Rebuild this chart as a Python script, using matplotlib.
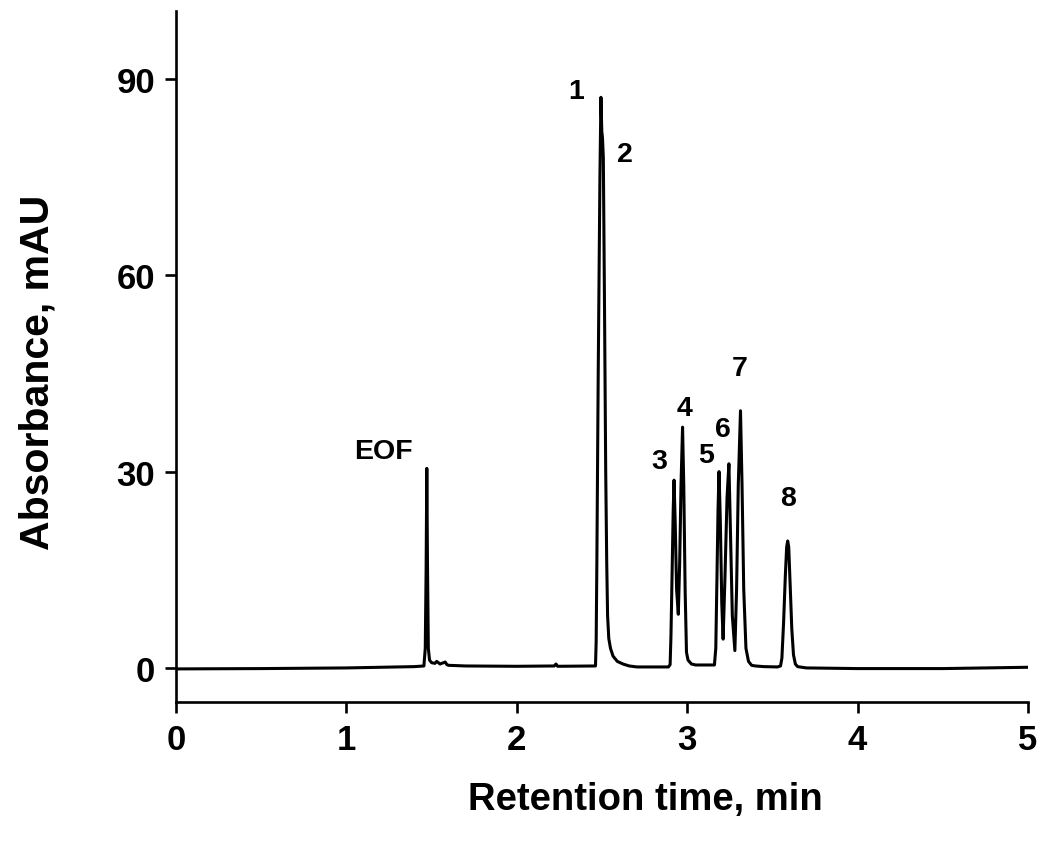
import matplotlib
matplotlib.use("Agg")
import matplotlib.pyplot as plt

time_min = [0.00, 0.50, 1.00, 1.40, 1.455, 1.463, 1.468, 1.472, 1.476, 1.481, 1.488,
            1.50, 1.52, 1.53, 1.55, 1.58, 1.59, 1.60, 1.70, 2.00, 2.22, 2.23, 2.24,
            2.462, 2.466, 2.470, 2.478, 2.488, 2.494, 2.499, 2.503, 2.508,
            2.515, 2.522, 2.528, 2.533, 2.540, 2.550, 2.565, 2.59, 2.623, 2.66, 2.705, 2.89,
            2.900, 2.905, 2.912, 2.918, 2.923, 2.930, 2.938, 2.948, 2.956, 2.964, 2.973,
            2.980, 2.988, 2.996, 3.005, 3.025, 3.05, 3.160,
            3.168, 3.175, 3.181, 3.187, 3.195, 3.203, 3.211, 3.222, 3.234, 3.245,
            3.253, 3.265, 3.280, 3.290, 3.300, 3.313, 3.322, 3.332,
            3.345, 3.360, 3.378, 3.40, 3.45, 3.53, 3.548,
            3.556, 3.566, 3.576, 3.584, 3.590, 3.596, 3.604, 3.614, 3.624, 3.635, 3.648,
            3.70, 4.00, 4.50, 5.00]
absorbance = [-0.15, -0.10, 0.00, 0.20, 0.30, 3.0, 15.0, 30.5, 16.0, 3.0, 1.2,
              0.8, 0.7, 1.0, 0.6, 0.9, 0.5, 0.4, 0.3, 0.25, 0.3, 0.6, 0.25,
              0.3, 4.0, 16.0, 45.0, 75.0, 87.2, 82.0, 81.0, 78.0,
              55.0, 30.0, 16.0, 8.0, 4.5, 3.0, 1.8, 1.0, 0.6, 0.3, 0.15, 0.15,
              0.5, 5.0, 15.0, 24.0, 28.7, 22.0, 12.0, 8.2, 16.0, 28.0, 36.8,
              28.0, 12.0, 2.4, 1.2, 0.6, 0.45, 0.45,
              3.0, 14.0, 24.0, 30.0, 22.0, 10.0, 4.4, 14.0, 26.0, 31.2,
              22.0, 8.0, 2.65, 12.0, 28.0, 39.3, 28.0, 12.0,
              3.0, 1.0, 0.4, 0.3, 0.2, 0.15, 0.3,
              1.5, 7.0, 14.0, 18.5, 19.4, 18.5, 13.0, 6.0, 2.0, 0.6, 0.2,
              0.0, -0.10, -0.10, 0.10]

# Peak labels
peak_labels = ["EOF", "1", "2", "3", "4", "5", "6", "7", "8"]
label_x = [1.215, 2.347, 2.635, 2.835, 2.982, 3.110, 3.207, 3.310, 3.590]
label_y = [33.2, 88.1, 78.5, 31.6, 39.7, 32.5, 36.5, 45.9, 25.9]

x_ticks = [0, 1, 2, 3, 4, 5]
y_ticks = [0, 30, 60, 90]
x_label = "Retention time, min"
y_label = "Absorbance, mAU"

fig = plt.figure(figsize=(10.5, 8.53), dpi=100)
ax = fig.add_axes([0.1676, 0.1759, 0.979 - 0.1676, 0.986 - 0.1759])

ax.plot(time_min, absorbance, color="black", lw=2.2, solid_joinstyle="round")

for t, lx, ly in zip(peak_labels, label_x, label_y):
    ax.text(lx, ly, t, ha="center", va="center", fontsize=20.5,
            fontweight="bold", family="Liberation Sans")

ax.set_xlim(0, 5)
ax.set_ylim(-5.2, 100.4)
ax.set_xticks(x_ticks)
ax.set_yticks(y_ticks)
ax.spines["top"].set_visible(False)
ax.spines["right"].set_visible(False)
ax.spines["left"].set_linewidth(1.9)
ax.spines["bottom"].set_linewidth(1.9)
ax.tick_params(direction="out", length=8, width=1.9, pad=7)

for lab in ax.get_xticklabels():
    lab.set_fontfamily(["Liberation Sans Narrow", "Liberation Sans"])
    lab.set_fontweight("bold")
    lab.set_fontsize(25)
for lab in ax.get_yticklabels():
    lab.set_fontfamily("Liberation Sans")
    lab.set_fontweight("bold")
    lab.set_fontsize(25)

ax.set_xlabel(x_label, fontsize=27.5, fontweight="bold", family="Liberation Sans")
ax.set_ylabel(y_label, fontsize=29.5, fontweight="bold", family="Liberation Sans")
ax.xaxis.label.set_verticalalignment("center")
ax.yaxis.label.set_verticalalignment("center")
ax.xaxis.set_label_coords(0.5505, -0.140)
ax.yaxis.set_label_coords(-0.163, 0.479)

fig.savefig("out.png", dpi=100)
